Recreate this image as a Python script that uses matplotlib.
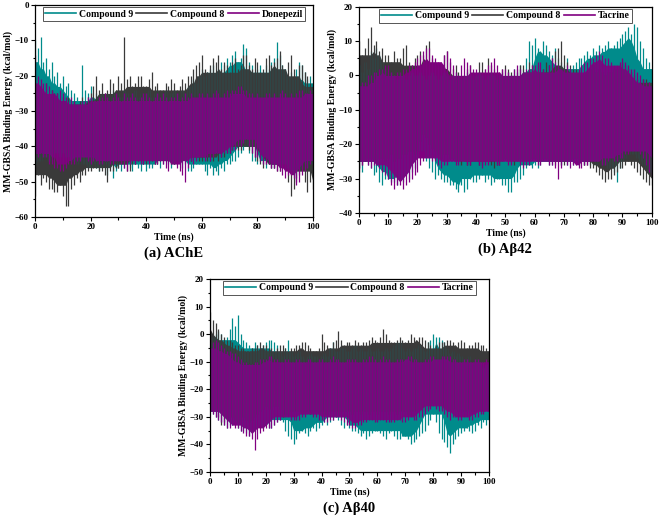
import numpy as np
import matplotlib
matplotlib.use('Agg')
import matplotlib.pyplot as plt
from matplotlib.ticker import MultipleLocator

plt.rcParams['font.family'] = ['Liberation Serif', 'DejaVu Serif']
plt.rcParams['font.weight'] = 'bold'

# time (ns), 1 ns steps; hi / lo = upper / lower spike of each trace
t = np.arange(0, 101)

# (a) AChE
ache_c9_hi = [-10, -12, -9, -16, -15, -18, -16, -20, -19, -22,
              -20, -23, -22, -24, -25, -26, -27, -17, -24, -25,
              -23, -26, -25, -26, -25, -27, -25, -26, -24, -26,
              -25, -26, -24, -25, -26, -25, -24, -26, -25, -26,
              -25, -24, -26, -25, -24, -26, -25, -24, -26, -25,
              -24, -25, -26, -24, -25, -23, -23, -21, -22, -20,
              -18, -20, -19, -18, -17, -19, -18, -16, -17, -15,
              -16, -14, -13, -16, -15, -11, -12, -16, -17, -19,
              -18, -17, -19, -17, -18, -16, -15, -10.5, -14, -17,
              -18, -20, -19, -21, -18, -16, -17, -19, -21, -20, -22]
ache_c9_lo = [-45, -44, -44, -43, -43, -44, -43, -42, -42, -43,
              -42, -43, -43, -44, -44, -45, -44, -45, -45, -46,
              -46, -45, -46, -47, -46, -45, -48, -46, -49, -47,
              -46, -47, -46, -45, -46, -47, -45, -46, -47, -45,
              -47, -46, -46, -45, -45, -46, -45, -44, -45, -46,
              -45, -44, -45, -46, -45, -47, -47, -46, -45, -45,
              -45, -47, -48, -46, -48, -47, -48, -46, -47, -45,
              -45, -44, -44, -43, -42, -41, -40, -42, -44, -44,
              -45, -44, -45, -46, -45, -46, -46, -45, -46, -45,
              -45, -46, -47, -48, -49, -47, -46, -45, -46, -45, -45]
ache_c8_hi = [-22, -24, -23, -25, -22, -26, -24, -25, -25, -27,
              -26, -27, -26, -28, -27, -28, -27, -26, -27, -26,
              -25, -23, -20, -24, -22, -25, -24, -21, -22, -24,
              -20, -22, -9, -21, -20, -23, -22, -20, -20, -23,
              -23, -21, -19, -23, -22, -24, -24, -22, -23, -21,
              -22, -24, -23, -21, -22, -20, -20, -18, -17, -16,
              -14, -18, -19, -17, -15, -16, -14, -18, -16, -17,
              -19, -16, -15, -18, -17, -14, -14, -17, -18, -15,
              -16, -19, -18, -15, -14, -17, -16, -15, -13, -17,
              -18, -16, -14, -18, -20, -17, -17, -19, -20, -22, -23]
ache_c8_lo = [-54, -48, -51, -49, -50, -52, -52, -53, -53, -51,
              -54, -57, -57, -52, -51, -49, -50, -48, -48, -47,
              -47, -46, -46, -47, -47, -48, -50, -47, -47, -46,
              -46, -45, -45, -47, -47, -45, -45, -44, -44, -45,
              -45, -44, -44, -45, -45, -44, -44, -44, -44, -45,
              -45, -44, -44, -44, -44, -43, -44, -43, -43, -44,
              -44, -43, -44, -44, -44, -43, -44, -43, -43, -42,
              -42, -41, -40, -41, -41, -40, -40, -41, -42, -43,
              -44, -45, -46, -45, -45, -46, -46, -47, -47, -46,
              -47, -50, -54, -52, -50, -48, -47, -50, -53, -50, -52]
ache_ref_hi = [-14, -20, -21, -22, -22, -23, -24, -25, -25, -24,
               -25, -26, -27, -26, -27, -28, -28, -27, -27, -26,
               -26, -27, -27, -26, -26, -25, -26, -27, -26, -25,
               -26, -27, -25, -26, -26, -25, -26, -27, -26, -25,
               -25, -26, -27, -26, -25, -26, -25, -26, -27, -26,
               -26, -25, -27, -26, -25, -26, -25, -26, -26, -25,
               -25, -26, -25, -26, -25, -24, -25, -26, -25, -24,
               -25, -24, -24, -23, -23, -24, -24, -25, -25, -26,
               -25, -26, -26, -25, -25, -26, -25, -26, -25, -24,
               -25, -26, -25, -26, -25, -24, -24, -25, -25, -24, -25]
ache_ref_lo = [-44, -43, -42, -43, -43, -45, -45, -46, -46, -47,
               -47, -46, -45, -45, -45, -44, -44, -43, -43, -44,
               -45, -44, -44, -45, -45, -44, -44, -45, -45, -44,
               -44, -45, -46, -47, -45, -44, -45, -44, -45, -45,
               -44, -45, -44, -45, -45, -44, -45, -46, -47, -45,
               -45, -46, -47, -48, -50, -46, -44, -45, -44, -43,
               -43, -44, -43, -44, -43, -42, -42, -43, -42, -42,
               -42, -41, -41, -40, -40, -39, -38, -40, -42, -43,
               -43, -44, -45, -45, -45, -46, -46, -47, -47, -48,
               -49, -48, -48, -49, -51, -50, -48, -47, -46, -45, -44]

# (b) Abeta42
ab42_c9_hi = [3, 1, 4, 2, 7, 5, 8, 6, 4, 2,
              0, 1, 0, -1, 1, 0, -1, 0, 1, 0,
              0, 1, 0, -1, 0, 1, 0, -1, 0, 1,
              0, -1, 0, 1, 0, -1, 0, 1, 0, -1,
              0, 1, 0, -1, 0, 1, 0, -1, 0, 1,
              0, 1, 0, 2, 1, 3, 2, 5, 10, 9,
              11, 8, 7, 10, 9, 7, 6, 8, 5, 4,
              3, 5, 2, 3, 4, 5, 5, 6, 7, 6,
              8, 7, 9, 8, 9, 10, 8, 9, 10, 11,
              12, 13, 14, 12, 15, 14, 10, 8, 5, 4, 2]
ab42_c9_lo = [-27, -28, -25, -26, -27, -29, -28, -31, -32, -30,
              -30, -31, -31, -32, -30, -31, -29, -30, -28, -27,
              -24, -22, -22, -25, -27, -28, -30, -29, -30, -31,
              -31, -32, -32, -33, -34, -32, -34, -33, -30, -31,
              -31, -30, -29, -31, -30, -32, -31, -30, -30, -32,
              -32, -34, -34, -31, -31, -30, -29, -27, -26, -27,
              -26, -27, -26, -25, -25, -26, -26, -25, -25, -26,
              -25, -26, -25, -26, -25, -26, -25, -26, -25, -26,
              -25, -26, -25, -26, -26, -27, -27, -28, -31, -27,
              -25, -24, -22, -23, -23, -24, -25, -26, -27, -28, -28]
ab42_c8_hi = [10, 6, 8, 11, 14, 9, 10, 7, 8, 6,
              6, 4, 7, 5, 5, 8, 9, 4, 3, 5,
              6, 7, 6, 9, 10, 5, 4, 3, 3, 6,
              7, 4, 2, 3, 1, 0, 0, 2, 3, 1,
              0, 4, 4, 2, 5, 3, 2, 1, 0, 2,
              3, 2, 1, 0, 2, 3, 3, 1, 4, 3,
              2, 3, 1, 2, 4, 3, 5, 7, 8, 10,
              6, 4, 3, 2, 2, 1, 0, 1, 1, 2,
              3, 1, 2, 1, 0, 1, 1, 2, 2, 3,
              4, 3, 2, 1, 0, -1, -2, -1, -1, -2, -2]
ab42_c8_lo = [-28, -26, -25, -24, -24, -25, -25, -24, -24, -25,
              -24, -23, -25, -24, -24, -23, -23, -22, -22, -23,
              -22, -19, -17, -18, -20, -21, -22, -23, -24, -23,
              -23, -24, -24, -25, -25, -26, -25, -26, -26, -25,
              -25, -26, -26, -25, -25, -26, -27, -26, -26, -25,
              -24, -25, -25, -26, -25, -24, -26, -25, -25, -24,
              -24, -25, -25, -24, -24, -25, -25, -26, -25, -26,
              -26, -25, -25, -24, -24, -25, -25, -26, -26, -27,
              -27, -28, -29, -30, -31, -30, -30, -29, -28, -27,
              -27, -26, -25, -26, -27, -28, -29, -30, -31, -32, -32]
ab42_ref_hi = [-3, -2, -2, 0, 0, 1, 1, 2, 2, 3,
               3, 1, 0, 1, 1, 2, 2, 3, 3, 4,
               5, 6, 7, 8, 8, 6, 5, 4, 4, 6,
               7, 5, 3, 1, 0, 3, 5, 4, 3, 2,
               2, 1, 1, 2, 3, 4, 5, 3, 1, 2,
               2, 1, 0, 2, 3, 2, 1, 2, 2, 3,
               3, 4, 4, 2, 1, 3, 5, 4, 3, 2,
               2, 3, 2, 1, 1, 2, 3, 4, 4, 5,
               5, 6, 7, 6, 5, 5, 4, 3, 3, 4,
               5, 4, 3, 2, 2, 1, 0, -1, -2, -2, -3]
ab42_ref_lo = [-27, -26, -25, -26, -27, -26, -26, -27, -28, -29,
               -30, -32, -33, -32, -32, -33, -32, -31, -30, -29,
               -28, -26, -25, -24, -24, -25, -25, -26, -27, -26,
               -26, -25, -25, -26, -26, -25, -25, -26, -26, -25,
               -25, -26, -27, -26, -26, -25, -25, -26, -26, -25,
               -25, -26, -26, -25, -25, -26, -27, -26, -26, -25,
               -25, -26, -26, -25, -25, -26, -26, -27, -30, -27,
               -25, -26, -27, -26, -26, -27, -27, -26, -26, -25,
               -25, -25, -25, -26, -26, -25, -24, -25, -25, -24,
               -24, -23, -23, -22, -22, -22, -23, -24, -26, -28, -29]

# (c) Abeta40
ab40_c9_hi = [-3, -1, 0, 1, 0, -2, -1, 2, 6, 3,
              7, 0, -2, -3, -4, -5, -3, -4, -5, -4,
              -3, -2, -2, -3, -4, -6, -8, -5, -2, -6,
              -8, -7, -6, -8, -9, -8, -7, -8, -8, -9,
              -8, -7, -8, -5, -3, -6, -6, -5, -5, -6,
              -6, -5, -4, -6, -5, -6, -6, -5, -6, -6,
              -5, -6, -6, -5, -6, -5, -4, -3, -3, -5,
              -6, -5, -6, -5, -5, -4, -5, -6, -3, -2,
              0, -1, -1, -2, -3, -5, -7, -6, -8, -7,
              -8, -9, -9, -8, -10, -9, -9, -10, -12, -11, -10]
ab40_c9_lo = [-28, -29, -30, -31, -32, -33, -34, -33, -33, -32,
              -34, -35, -35, -36, -37, -36, -35, -34, -33, -34,
              -33, -34, -34, -33, -32, -31, -32, -35, -37, -38,
              -40, -38, -36, -35, -36, -37, -35, -34, -35, -34,
              -33, -32, -33, -32, -31, -30, -31, -33, -34, -33,
              -34, -35, -35, -36, -37, -36, -38, -37, -36, -35,
              -35, -36, -37, -38, -36, -35, -37, -38, -38, -37,
              -37, -38, -40, -39, -38, -37, -36, -35, -33, -31,
              -29, -32, -36, -38, -39, -41, -43, -40, -38, -37,
              -36, -35, -34, -35, -36, -35, -33, -34, -32, -33, -31]
ab40_c8_hi = [8, 5, 4, 2, 0, -1, -2, -2, -3, -4,
              -4, -5, -5, -6, -6, -5, -5, -4, -3, -4,
              -4, -5, -5, -6, -5, -4, -4, -5, -6, -5,
              -5, -4, -4, -3, -3, -4, -5, -6, -6, -5,
              0, -3, -4, -5, -3, -2, 1, -2, -4, -3,
              -3, -4, -2, -3, -4, -3, -3, -2, -1, -2,
              -3, -1, 2, 0, -2, -3, -3, -2, -1, -2,
              -3, -2, 0, -1, -2, -1, -1, -2, -3, -4,
              -5, -4, -3, -3, -3, -2, -2, -3, -4, -3,
              -2, -3, -5, -4, -4, -3, -3, -4, -4, -5, -6]
ab40_c8_lo = [-27, -28, -27, -30, -33, -32, -31, -30, -30, -31,
              -32, -31, -30, -31, -32, -31, -30, -29, -28, -27,
              -26, -27, -27, -26, -26, -27, -30, -29, -29, -28,
              -28, -28, -28, -29, -28, -28, -29, -28, -28, -29,
              -28, -29, -29, -28, -28, -28, -29, -28, -28, -28,
              -28, -29, -28, -28, -29, -28, -28, -29, -28, -28,
              -29, -28, -28, -28, -29, -28, -28, -29, -28, -28,
              -28, -29, -28, -28, -28, -27, -28, -28, -27, -26,
              -25, -26, -26, -27, -27, -28, -28, -27, -27, -28,
              -27, -28, -28, -27, -28, -28, -27, -28, -28, -27, -28]
ab40_ref_hi = [-5, -3, -2, -3, -4, -5, -6, -6, -7, -7,
               -8, -9, -10, -10, -11, -11, -10, -10, -9, -9,
               -9, -8, -8, -9, -9, -10, -10, -9, -9, -10,
               -10, -9, -9, -10, -10, -9, -9, -10, -10, -9,
               -9, -10, -10, -9, -8, -9, -9, -10, -10, -9,
               -9, -9, -9, -10, -10, -9, -9, -8, -8, -9,
               -10, -9, -8, -9, -9, -10, -10, -9, -9, -9,
               -9, -8, -8, -9, -9, -10, -10, -9, -9, -8,
               -8, -9, -9, -8, -8, -8, -8, -9, -9, -10,
               -10, -9, -9, -10, -10, -9, -9, -10, -10, -9, -9]
ab40_ref_lo = [-28, -29, -30, -31, -32, -33, -34, -34, -33, -34,
               -34, -35, -36, -37, -37, -38, -42, -38, -36, -35,
               -34, -34, -34, -33, -32, -31, -30, -30, -30, -31,
               -31, -31, -31, -30, -30, -29, -29, -30, -30, -31,
               -31, -32, -32, -31, -31, -30, -30, -31, -32, -33,
               -33, -34, -34, -33, -33, -32, -32, -31, -31, -32,
               -32, -31, -31, -32, -32, -32, -32, -31, -31, -32,
               -32, -31, -30, -31, -31, -30, -30, -29, -28, -27,
               -26, -27, -28, -28, -29, -30, -31, -30, -30, -31,
               -31, -30, -30, -31, -31, -30, -30, -29, -29, -28, -28]

teal = '#008b8b'
gray = '#3a3a3a'
purple = '#800080'


def rolling(v, fn, w=7):
    v = np.asarray(v, dtype=float)
    p = np.pad(v, w // 2, mode='edge')
    return np.array([fn(p[i:i + w]) for i in range(len(v))])


def draw_trace(ax, hi, lo, color, label):
    hi = np.asarray(hi, dtype=float)
    lo = np.asarray(lo, dtype=float)
    # solid body of the trace, spikes on top
    core_hi = rolling(hi, np.min)
    core_lo = rolling(lo, np.max)
    ax.fill_between(t, core_lo, core_hi, color=color, linewidth=0)
    ax.vlines(t, lo, hi, color=color, lw=0.9)
    return ax.plot([], [], color=color, lw=1.2, label=label)[0]


def style(ax, ylim, ystep, xstep, title):
    ax.set_xlim(0, 100)
    ax.set_ylim(*ylim)
    ax.yaxis.set_major_locator(MultipleLocator(ystep))
    ax.yaxis.set_minor_locator(MultipleLocator(ystep / 2))
    ax.xaxis.set_major_locator(MultipleLocator(xstep))
    ax.xaxis.set_minor_locator(MultipleLocator(xstep / 2))
    ax.tick_params(which='both', direction='out', labelsize=6.5, width=0.8, pad=1.5)
    ax.tick_params(which='major', length=3)
    ax.tick_params(which='minor', length=1.8)
    for lab in ax.get_xticklabels() + ax.get_yticklabels():
        lab.set_fontweight('bold')
    for s in ax.spines.values():
        s.set_linewidth(0.9)
    ax.set_xlabel('Time (ns)', fontsize=7, fontweight='bold', labelpad=1)
    ax.set_ylabel('MM-GBSA Binding Energy (kcal/mol)', fontsize=7, fontweight='bold', labelpad=1)
    leg = ax.legend(loc='upper center', ncol=3, fontsize=7, frameon=True, fancybox=False,
                    handlelength=3.2, handletextpad=0.3, columnspacing=0.3,
                    borderpad=0.25, borderaxespad=0.2, edgecolor='#555555',
                    framealpha=1)
    leg.get_frame().set_linewidth(0.7)
    for txt in leg.get_texts():
        txt.set_fontweight('bold')
    ax.annotate(title, xy=(0.5, 0), xycoords='axes fraction', xytext=(0, -26),
                textcoords='offset points', ha='center', va='center',
                fontsize=10.5, fontweight='bold')


fig = plt.figure(figsize=(6.61, 5.18), dpi=100)

ax_a = fig.add_axes([0.053, 0.581, 0.4205, 0.409])
draw_trace(ax_a, ache_c9_hi, ache_c9_lo, teal, 'Compound 9')
draw_trace(ax_a, ache_c8_hi, ache_c8_lo, gray, 'Compound 8')
draw_trace(ax_a, ache_ref_hi, ache_ref_lo, purple, 'Donepezil')
style(ax_a, (-60, 0), 10, 20, '(a) AChE')

ax_b = fig.add_axes([0.543, 0.589, 0.443, 0.398])
draw_trace(ax_b, ab42_c9_hi, ab42_c9_lo, teal, 'Compound 9')
draw_trace(ax_b, ab42_c8_hi, ab42_c8_lo, gray, 'Compound 8')
draw_trace(ax_b, ab42_ref_hi, ab42_ref_lo, purple, 'Tacrine')
style(ax_b, (-40, 20), 10, 10, '(b) A\u03b242')

ax_c = fig.add_axes([0.3177, 0.0888, 0.422, 0.3726])
draw_trace(ax_c, ab40_c9_hi, ab40_c9_lo, teal, 'Compound 9')
draw_trace(ax_c, ab40_c8_hi, ab40_c8_lo, gray, 'Compound 8')
draw_trace(ax_c, ab40_ref_hi, ab40_ref_lo, purple, 'Tacrine')
style(ax_c, (-50, 20), 10, 10, '(c) A\u03b240')

fig.savefig('out.png', dpi=100)
